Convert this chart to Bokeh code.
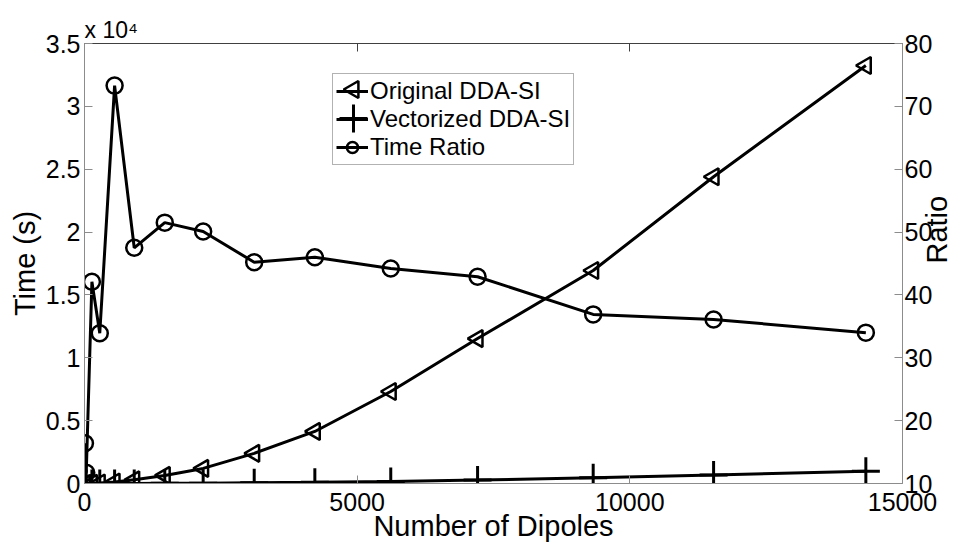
import numpy as np
from bokeh.plotting import figure
from bokeh.models import (Range1d, LinearAxis, FixedTicker, Legend, Title,
                          LegendItem, ColumnDataSource)
from bokeh.embed import file_html
from bokeh.resources import INLINE

# Number of dipoles in each discretised target
dipoles = [8, 32, 136, 280, 552, 912, 1472, 2176, 3112, 4224,
           5616, 7208, 9328, 11536, 14328]
# Run time (s) of the original DDA-SI code
original_time = [0.3, 2, 12, 40, 120, 290, 640, 1200, 2400, 4140,
                 7320, 11530, 16940, 24400, 33250]
# Run time (s) of the vectorized DDA-SI code
vectorized_time = [0.018, 0.17, 0.29, 1.18, 1.64, 6.1, 12.4, 24, 53, 90,
                   166, 269, 459, 676, 978]
# Speed-up ratio original / vectorized
time_ratio = [16.4, 11.7, 42.1, 33.9, 73.3, 47.5, 51.5, 50.1, 45.2, 46.0,
              44.2, 42.9, 36.9, 36.1, 34.0]

x_ticks = [0, 5000, 10000, 15000]
time_ticks = [0, 5000, 10000, 15000, 20000, 25000, 30000, 35000]
time_tick_labels = ["0", "0.5", "1", "1.5", "2", "2.5", "3", "3.5"]
ratio_ticks = [10, 20, 30, 40, 50, 60, 70, 80]

FONT = "Liberation Sans"
TICK_PX = "25px"
LABEL_PX = "29px"
AXIS_GRAY = "#8c8c8c"
FRAME_W, FRAME_H = 818, 440

src = ColumnDataSource(dict(n=dipoles, orig=original_time,
                            vec=vectorized_time, ratio=time_ratio))

p = figure(frame_width=FRAME_W, frame_height=FRAME_H,
           output_backend="svg", toolbar_location=None,
           x_range=Range1d(0, 15000), y_range=Range1d(0, 35000),
           min_border_left=84, min_border_right=50,
           min_border_top=43, min_border_bottom=64)
p.extra_y_ranges = {"ratio": Range1d(10, 80), "py": Range1d(0, FRAME_H)}
# pixel-like ranges used to place the legend keys
p.extra_x_ranges = {"px": Range1d(0, FRAME_W)}
p.xgrid.visible = False
p.ygrid.visible = False
p.outline_line_color = None
p.background_fill_color = "white"
p.border_fill_color = "white"


def style_axis(ax):
    ax.axis_line_color = AXIS_GRAY
    ax.axis_line_width = 1
    ax.major_tick_line_color = AXIS_GRAY
    ax.major_tick_in = 8
    ax.major_tick_out = 0
    ax.minor_tick_in = 0
    ax.minor_tick_out = 0
    ax.minor_tick_line_color = None
    ax.major_label_text_font = FONT
    ax.major_label_text_font_size = TICK_PX
    ax.major_label_text_color = "black"
    ax.axis_label_text_font = FONT
    ax.axis_label_text_font_size = LABEL_PX
    ax.axis_label_text_font_style = "normal"
    ax.axis_label_text_color = "black"


# bottom axis
xax = p.xaxis[0]
xax.ticker = FixedTicker(ticks=x_ticks)
xax.axis_label = "Number of Dipoles"
style_axis(xax)
xax.major_label_standoff = 9
xax.axis_label_standoff = -4

# left axis (time, shown in units of 10^4 s)
yax = p.yaxis[0]
yax.ticker = FixedTicker(ticks=time_ticks)
yax.major_label_overrides = {t: s for t, s in zip(time_ticks, time_tick_labels)}
yax.axis_label = "Time (s)"
style_axis(yax)
yax.major_label_standoff = 4
yax.axis_label_standoff = 2

# right axis (ratio)
rax = LinearAxis(y_range_name="ratio", ticker=FixedTicker(ticks=ratio_ticks),
                 axis_label="Ratio")
style_axis(rax)
rax.major_label_standoff = 2
rax.axis_label_standoff = 2
rax.axis_label_orientation = np.pi / 2
p.add_layout(rax, "right")

# top box edge with inward ticks
tax = LinearAxis(ticker=FixedTicker(ticks=x_ticks))
style_axis(tax)
tax.axis_line_color = "#404040"
tax.major_tick_line_color = "#404040"
tax.major_label_text_color = None
tax.major_label_text_font_size = "1px"
tax.major_label_standoff = 0
p.add_layout(tax, "above")

# exponent of the left axis
p.add_layout(Title(text="x 10\u2074", align="left", text_font=FONT,
                   text_font_size="23px", text_font_style="normal",
                   text_color="black", standoff=2), "above")

# series
l_orig = p.line("n", "orig", source=src, line_color="black", line_width=3)
m_orig = p.scatter("n", "orig", source=src, marker="triangle", angle=np.pi / 2,
                   size=17, line_color="black", line_width=2.5, fill_color=None)

l_vec = p.line("n", "vec", source=src, line_color="black", line_width=3)
m_vec = p.scatter("n", "vec", source=src, marker="cross", size=28,
                  line_color="black", line_width=3)

l_rat = p.line("n", "ratio", source=src, y_range_name="ratio",
               line_color="black", line_width=3)
m_rat = p.scatter("n", "ratio", source=src, y_range_name="ratio",
                  marker="circle", size=16, line_color="black",
                  line_width=2.5, fill_color=None)

legend = Legend(items=[
    LegendItem(label="Original DDA-SI", renderers=[l_orig]),
    LegendItem(label="Vectorized DDA-SI", renderers=[l_vec]),
    LegendItem(label="Time Ratio", renderers=[l_rat, m_rat]),
], location=(248, 318))
legend.label_text_font = FONT
legend.label_text_font_size = "24px"
legend.label_text_color = "black"
legend.border_line_color = "#666666"
legend.border_line_width = 1
legend.background_fill_alpha = 0
legend.padding = 3
legend.spacing = 0
legend.margin = 0
legend.glyph_width = 32
legend.glyph_height = 28
legend.label_height = 28
legend.label_standoff = 2
p.add_layout(legend, "center")

# legend keys drawn at full marker size: left-pointing triangle and cross
p.scatter(x=[269], y=[394], x_range_name="px", y_range_name="py",
          marker="triangle", angle=np.pi / 2, size=17,
          line_color="black", line_width=2.5, fill_color=None)
p.scatter(x=[269], y=[365], x_range_name="px", y_range_name="py",
          marker="cross", size=28, line_color="black", line_width=3)

open("out.html", "w").write(file_html(p, INLINE))
